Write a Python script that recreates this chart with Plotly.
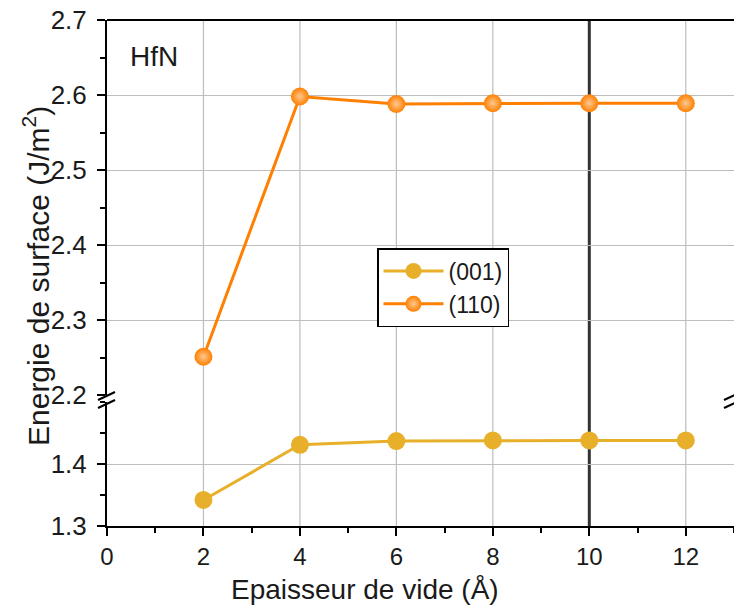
import plotly.graph_objects as go

x_vals = [2, 4, 6, 8, 10, 12]
e001 = [1.342, 1.431, 1.437, 1.438, 1.438, 1.438]
e110 = [2.251, 2.598, 2.588, 2.589, 2.589, 2.589]
names = ["(001)", "(110)"]
x_ticks = [0, 2, 4, 6, 8, 10, 12]
x_grid = [2, 4, 6, 8, 12]
x_dark = 10

W, H = 734, 608
PL, PR, PT, PB = 107, 734, 20, 526
pw, ph = PR - PL, PB - PT

def py(p):  # pixel y -> paper
    return (PB - p) / ph

def px(p):
    return (p - PL) / pw

gold = "#E8B02A"
orange = "#FF7F00"
FONT = "Liberation Sans, Arial, sans-serif"
TXT = "#1a1a1a"

fig = go.Figure()
fig.add_trace(go.Scatter(x=x_vals, y=e001, name=names[0], mode="lines+markers",
                         line=dict(color=gold, width=3),
                         marker=dict(color=gold, size=18), yaxis="y"))
fig.add_trace(go.Scatter(x=x_vals, y=e110, name=names[1], mode="lines+markers",
                         line=dict(color=orange, width=3),
                         marker=dict(color=orange, size=18,
                                     gradient=dict(type="radial", color="#FFC890")),
                         yaxis="y2"))

grid = "#BDBDBD"
common_y = dict(showline=True, linecolor="black", linewidth=2, ticks="outside",
                ticklen=8, tickwidth=2, tickcolor="black", showgrid=True,
                gridcolor=grid, gridwidth=1.2, zeroline=False, ticklabelstandoff=5,
                ticklabeloverflow="allow",
                tickfont=dict(size=26, color=TXT),
                minor=dict(ticks="outside", ticklen=5, tickwidth=2, tickcolor="black", dtick=0.05))

lower_top = py(402)
upper_bot = py(395)

fig.update_layout(
    width=W, height=H,
    margin=dict(l=PL, r=W - PR, t=PT, b=H - PB, pad=0),
    plot_bgcolor="rgba(0,0,0,0)", paper_bgcolor="white",
    font=dict(family=FONT, color=TXT),
    showlegend=True,
    legend=dict(x=px(377), y=py(248), xanchor="left", yanchor="top",
                bordercolor="black", borderwidth=1.5, bgcolor="white",
                font=dict(size=23, family=FONT, color=TXT), itemwidth=60,
                tracegroupgap=0),
    xaxis=dict(range=[0, 13], tickvals=x_ticks, showline=True, linecolor="black",
               linewidth=2, ticks="outside", ticklen=8, tickwidth=2, tickcolor="black",
               showgrid=False, zeroline=False,
               ticklabelstandoff=0, ticklabeloverflow="allow",
               tickfont=dict(size=24, color=TXT), anchor="y",
               minor=dict(ticks="outside", ticklen=5, tickwidth=2, tickcolor="black", dtick=1)),
    yaxis=dict(domain=[0, lower_top], range=[1.3, 1.5], tickvals=[1.3, 1.4],
               ticktext=["1.3", "1.4"], anchor="x", **common_y),
    yaxis2=dict(domain=[upper_bot, 1], range=[2.2, 2.7],
                tickvals=[2.2, 2.3, 2.4, 2.5, 2.6, 2.7], anchor="x", **common_y),
)

shapes = []
for xv in x_grid:
    shapes.append(dict(type="line", xref="x", yref="paper", x0=xv, x1=xv,
                       y0=0, y1=1, line=dict(color=grid, width=1.2), layer="below"))
shapes.append(dict(type="line", xref="x", yref="paper", x0=x_dark, x1=x_dark, y0=0, y1=1,
                   line=dict(color="#333333", width=3), layer="below"))
shapes.append(dict(type="line", xref="paper", yref="paper", x0=0, x1=1, y0=1, y1=1,
                   line=dict(color="black", width=2)))
for cx in [PL, PR - 1]:
    for cy in [396, 404]:
        shapes.append(dict(type="line", xref="paper", yref="paper",
                           x0=px(cx - 9), x1=px(cx + 8), y0=py(cy + 4), y1=py(cy - 4),
                           line=dict(color="black", width=2)))
fig.update_layout(shapes=shapes)

fig.add_annotation(text="Energie de surface (J/m<sup>2</sup>)", textangle=-90,
                   xref="paper", yref="paper", x=px(36), y=py(276),
                   xanchor="center", yanchor="middle", showarrow=False,
                   font=dict(size=30, family=FONT, color=TXT))
fig.add_annotation(text="Epaisseur de vide (Å)", xref="paper", yref="paper",
                   x=px(365), y=py(589), xanchor="center", yanchor="middle",
                   showarrow=False, font=dict(size=28, family=FONT, color=TXT))
fig.add_annotation(text="HfN", xref="paper", yref="paper", x=px(128), y=py(56),
                   xanchor="left", yanchor="middle", showarrow=False,
                   font=dict(size=28, family=FONT, color=TXT))

fig.write_html("out.html", config={"displayModeBar": False},
               post_script="document.body.style.margin='0';document.body.style.overflow='hidden';")
